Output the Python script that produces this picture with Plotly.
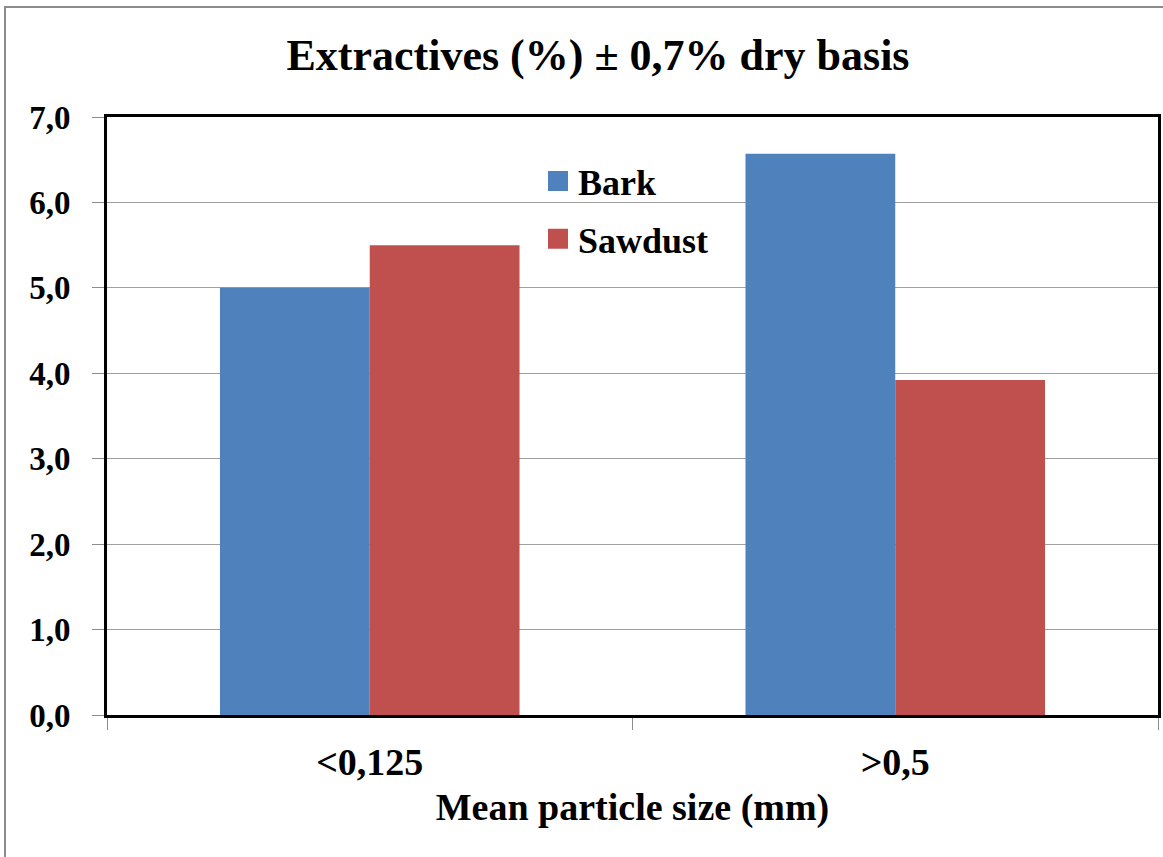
import plotly.graph_objects as go

# Mean particle size classes and extractive contents (% dry basis)
categories = ["<0,125", ">0,5"]
bark = [5.0, 6.57]
sawdust = [5.5, 3.92]
series_names = ["Bark", "Sawdust"]
series_colors = ["#4F81BD", "#C0504D"]
y_ticks = [0, 1, 2, 3, 4, 5, 6, 7]

FONT = "Liberation Serif"
W, H = 1163, 857
ML, MR, MT, MB = 107, 5, 117, 142
PW, PH = W - ML - MR, H - MT - MB


def px_x(px):
    return (px - ML) / PW


def px_y(py):
    return (H - MB - py) / PH


fig = go.Figure()

for name, vals, col in zip(series_names, [bark, sawdust], series_colors):
    fig.add_trace(go.Bar(
        x=categories, y=vals, name=name,
        marker=dict(color=col, line=dict(width=0)),
        showlegend=False,
    ))

# Larger square swatches for the legend
for name, col in zip(series_names, series_colors):
    fig.add_trace(go.Scatter(
        x=[None], y=[None], mode="markers", name=name, legendgroup=name,
        marker=dict(symbol="square", size=16, color=col,
                    line=dict(color=col, width=4)),
    ))

fig.update_layout(
    width=W, height=H,
    margin=dict(l=ML, r=MR, t=MT, b=MB, autoexpand=False),
    paper_bgcolor="white", plot_bgcolor="white",
    separators=", ",
    barmode="group", bargap=0.43, bargroupgap=0,
    font=dict(family=FONT, color="black"),
    title=dict(
        text="Extractives (%) ± 0,7% dry basis",
        font=dict(family=FONT, size=44, weight="bold", color="black"),
        x=px_x(598), xref="paper", xanchor="center",
        y=1 - 55 / H, yref="container", yanchor="middle",
    ),
    legend=dict(
        x=px_x(538), y=px_y(151), xanchor="left", yanchor="top",
        font=dict(family=FONT, size=36, weight="bold", color="black"),
        bgcolor="rgba(0,0,0,0)", tracegroupgap=8,
    ),
    xaxis=dict(
        type="category", tickson="boundaries",
        ticks="outside", ticklen=12, tickcolor="#8c8c8c", tickwidth=1,
        showline=True, linecolor="black", linewidth=3, mirror=True,
        showgrid=False, ticklabelstandoff=11,
        tickfont=dict(family=FONT, size=38, weight="bold", color="black"),
        title=dict(text="Mean particle size (mm)", standoff=12,
                   font=dict(family=FONT, size=38, weight="bold", color="black")),
    ),
    yaxis=dict(
        range=[0, 7], tickvals=y_ticks, tickformat=".1f",
        ticks="outside", ticklen=12, tickcolor="#8c8c8c", tickwidth=1,
        showline=True, linecolor="black", linewidth=3, mirror=True,
        showgrid=True, gridcolor="#a0a0a0", gridwidth=1, zeroline=False,
        ticklabelstandoff=15,
        tickfont=dict(family=FONT, size=33, weight="bold", color="black"),
    ),
    shapes=[dict(
        type="rect", xref="paper", yref="paper",
        x0=px_x(5), x1=px_x(1180), y0=px_y(900), y1=px_y(7),
        line=dict(color="#8c8c8c", width=2), fillcolor="rgba(0,0,0,0)",
        layer="above",
    )],
)

fig.write_html("out.html")
